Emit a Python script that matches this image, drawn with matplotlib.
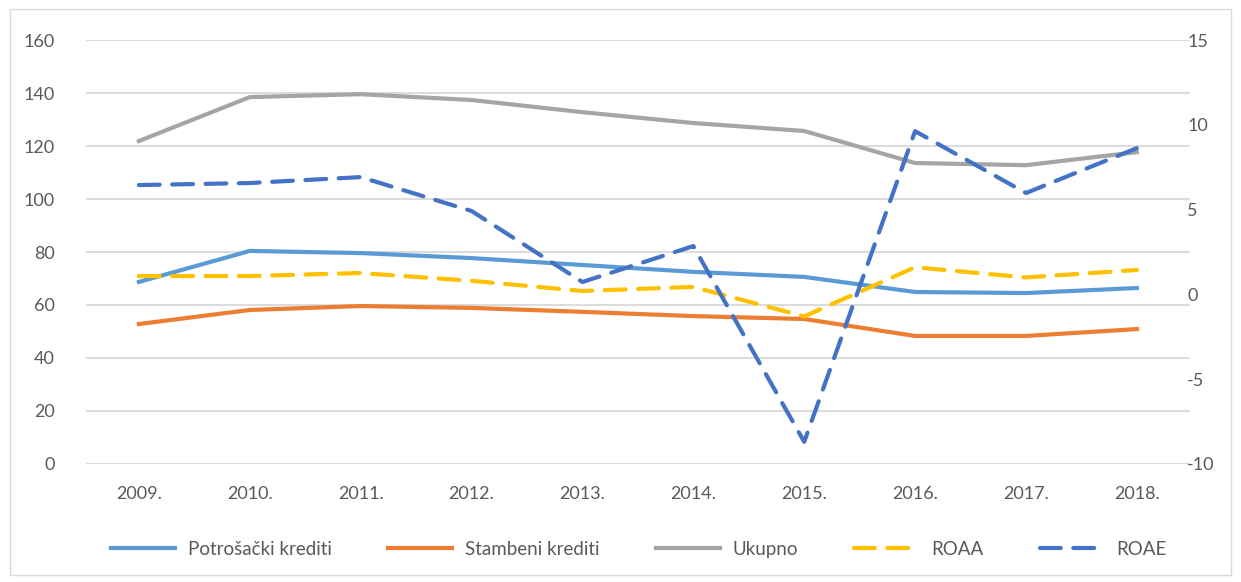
import matplotlib
matplotlib.use('Agg')
import matplotlib.pyplot as plt
from matplotlib.patches import Rectangle

plt.rcParams['font.family'] = ['Lato', 'DejaVu Sans']
plt.rcParams['axes.unicode_minus'] = False

years = ['2009.', '2010.', '2011.', '2012.', '2013.', '2014.', '2015.', '2016.', '2017.', '2018.']
potrosacki = [68.7, 80.4, 79.6, 77.7, 75.1, 72.5, 70.6, 64.9, 64.5, 66.4]
stambeni = [52.8, 58.1, 59.6, 58.9, 57.4, 55.8, 54.7, 48.3, 48.3, 50.9]
ukupno = [121.9, 138.5, 139.6, 137.4, 132.8, 128.7, 125.7, 113.6, 112.8, 117.7]
roaa = [1.08, 1.08, 1.26, 0.8, 0.2, 0.44, -1.3, 1.6, 1.0, 1.44]
roae = [6.45, 6.57, 6.92, 4.92, 0.73, 2.85, -8.7, 9.63, 5.98, 8.63]

txt = '#595959'
x = list(range(len(years)))

fig = plt.figure(figsize=(12.41, 5.82), dpi=100)
fig.patches.append(Rectangle((0.008, 0.012), 0.984, 0.972, transform=fig.transFigure,
                             fill=False, edgecolor='#D9D9D9', lw=1))
ax = fig.add_axes([0.069, 0.203, 0.89, 0.728])
ax2 = ax.twinx()

ax.set_ylim(0, 160)
ax.set_yticks(range(0, 161, 20))
ax2.set_ylim(-10, 15)
ax2.set_yticks(range(-10, 16, 5))
ax.set_xlim(-0.48, 9.48)
ax.set_xticks(x)
ax.set_xticklabels(years)
ax.grid(axis='y', color='#D9D9D9', lw=1.3)
ax.set_axisbelow(True)

for a in (ax, ax2):
    for s in a.spines.values():
        s.set_visible(False)
    a.tick_params(length=0, labelsize=13, colors=txt)
ax.tick_params(axis='y', pad=22)
ax.tick_params(axis='x', pad=16)
ax2.tick_params(axis='y', pad=-2)

l1, = ax.plot(x, potrosacki, color='#5B9BD5', lw=3, label='Potrošački krediti')
l2, = ax.plot(x, stambeni, color='#ED7D31', lw=3, label='Stambeni krediti')
l3, = ax.plot(x, ukupno, color='#A5A5A5', lw=3, label='Ukupno')
l4, = ax2.plot(x, roaa, color='#FFC000', lw=3, dashes=(5, 3), dash_capstyle='round', label='ROAA')
l5, = ax2.plot(x, roae, color='#4472C4', lw=3, dashes=(5, 3), dash_capstyle='round', label='ROAE')

leg = fig.legend(handles=[l1, l2, l3, l4, l5], loc='center', bbox_to_anchor=(0.515, 0.056),
                 ncol=5, frameon=False, fontsize=13.5, handlelength=3.4, columnspacing=3.0,
                 handletextpad=0.7)
for t in leg.get_texts():
    t.set_color(txt)

fig.savefig('out.png', dpi=100)
